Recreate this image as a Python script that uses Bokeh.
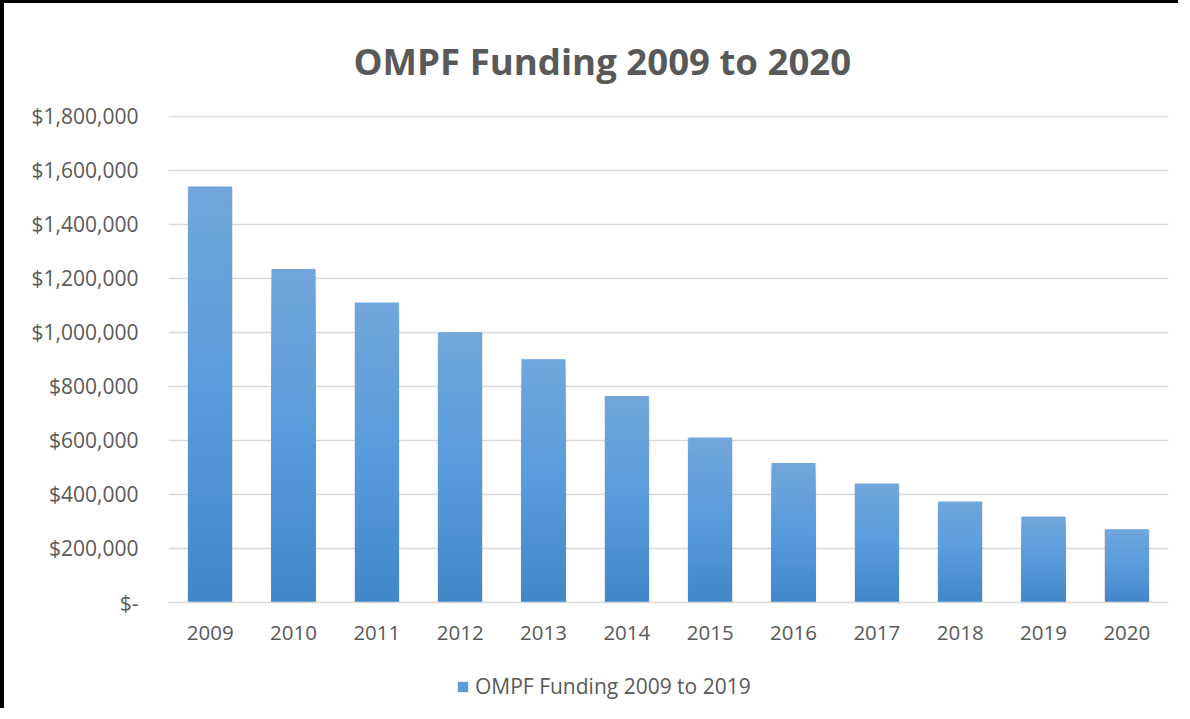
from bokeh.plotting import figure
from bokeh.layouts import column
from bokeh.models import ColumnDataSource, FixedTicker, Legend, LegendItem, Range1d
from bokeh.embed import file_html
from bokeh.resources import INLINE

# ---- data ----
years = ["2009", "2010", "2011", "2012", "2013", "2014",
         "2015", "2016", "2017", "2018", "2019", "2020"]
funding = [1540000, 1235000, 1110000, 1000000, 900000, 765000,
           610000, 517000, 440000, 373000, 318000, 270000]
y_ticks = [0, 200000, 400000, 600000, 800000, 1000000,
           1200000, 1400000, 1600000, 1800000]
y_tick_labels = ["$-", "$200,000", "$400,000", "$600,000", "$800,000",
                 "$1,000,000", "$1,200,000", "$1,400,000", "$1,600,000",
                 "$1,800,000"]
series_name = "OMPF Funding 2009 to 2019"
title_text = "OMPF Funding 2009 to 2020"

FONT = "Open Sans"
TXT = "#595959"
GRID = "#d9d9d9"
BAR = "#5b9bd5"

y_end = y_ticks[-1] * 1.002  # tiny headroom so the top gridline shows

p = figure(x_range=years, y_range=(0, y_end), width=1178, height=649,
           output_backend="svg", toolbar_location=None,
           min_border_left=164, min_border_right=14,
           min_border_top=111, min_border_bottom=50)
p.styles = {"border-left": "4px solid black", "border-top": "3px solid black"}

# title
p.title.text = title_text
p.title.align = "left"
p.title.offset = 185
p.title.standoff = 60
p.title.text_font = FONT
p.title.text_font_size = "36.6px"
p.title.text_font_style = "bold"
p.title.text_color = TXT

# shadow
p.vbar(x=years, top=funding, width=0.545, bottom=-9000, fill_color="black",
       fill_alpha=0.12, line_color=None)

# base bars
p.vbar(x=years, top=funding, width=0.52, fill_color=BAR, line_color=None)

# gradient overlay built from nested layers of each value
N = 40
top_c = (113, 166, 219)
mid_c = (88, 156, 221)
bot_c = (66, 134, 203)

def lerp(a, b, t):
    return tuple(int(round(a[i] + (b[i] - a[i]) * t)) for i in range(3))

xs, tops, cols = [], [], []
for k in range(N, 0, -1):
    f1 = k / N
    t = 1 - (f1 - 0.5 / N)  # 0 at top, 1 at bottom
    if t < 0.5:
        c = lerp(top_c, mid_c, t / 0.5)
    else:
        c = lerp(mid_c, bot_c, (t - 0.5) / 0.5)
    for yr, v in zip(years, funding):
        xs.append(yr)
        tops.append(v * f1)
        cols.append("#%02x%02x%02x" % c)
src = ColumnDataSource(dict(x=xs, top=tops, color=cols))
p.vbar(x="x", bottom=0, top="top", width=0.52, fill_color="color",
       line_color=None, source=src)

# axes
p.xaxis.axis_line_color = GRID
p.xaxis.axis_line_width = 1.5
p.xaxis.major_tick_line_color = None
p.xaxis.minor_tick_line_color = None
p.xaxis.major_label_standoff = 17
p.xaxis.major_label_text_font = FONT
p.xaxis.major_label_text_font_size = "20.5px"
p.xaxis.major_label_text_color = TXT

p.yaxis.ticker = FixedTicker(ticks=y_ticks)
p.yaxis.major_label_overrides = {t: l for t, l in zip(y_ticks, y_tick_labels)}
p.yaxis.axis_line_color = None
p.yaxis.major_tick_line_color = None
p.yaxis.minor_tick_line_color = None
p.yaxis.major_label_standoff = 24
p.yaxis.major_label_text_font = FONT
p.yaxis.major_label_text_font_size = "21px"
p.yaxis.major_label_text_color = TXT

p.xgrid.grid_line_color = None
p.ygrid.ticker = FixedTicker(ticks=y_ticks)
p.ygrid.grid_line_color = GRID
p.ygrid.grid_line_width = 1.5
p.outline_line_color = None

# ---- legend strip (its own small figure below the chart) ----
# its y range sits far above the data, so its bars stay out of view
p2 = figure(x_range=years, y_range=Range1d(2e7, 3e7), width=1178, height=59,
            output_backend="svg", toolbar_location=None,
            min_border_left=0, min_border_right=0,
            min_border_top=0, min_border_bottom=0)
p2.styles = {"border-left": "4px solid black"}
p2.axis.visible = False
p2.grid.grid_line_color = None
p2.outline_line_color = None
leg_r = p2.vbar(x=years, top=funding, width=0.52, fill_color=BAR,
                line_color=None)

legend = Legend(items=[LegendItem(label=series_name, renderers=[leg_r])],
                location=(288, 8),
                padding=0, margin=0, border_line_color=None,
                background_fill_alpha=0, glyph_width=13, glyph_height=13,
                label_text_font=FONT, label_text_font_size="21px",
                label_text_color=TXT, label_standoff=6)
p2.add_layout(legend, "center")

layout = column(p, p2, spacing=0)
open("out.html", "w").write(file_html(layout, INLINE))
